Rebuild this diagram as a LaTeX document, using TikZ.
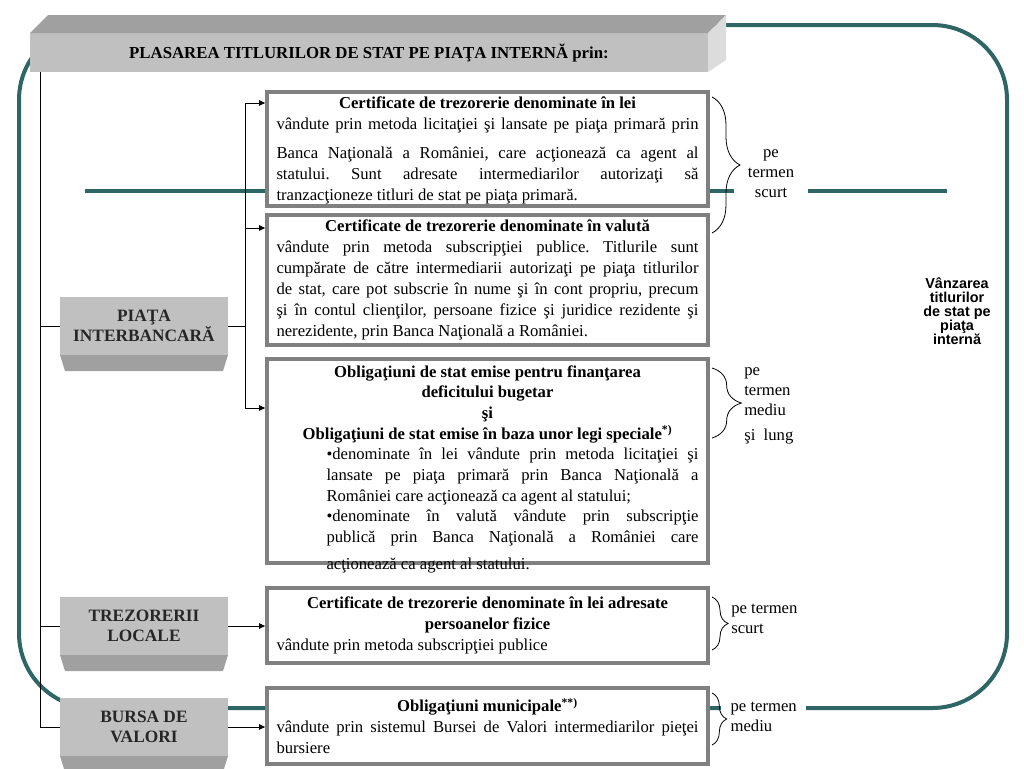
\documentclass[tikz,border=0pt]{standalone}
\usepackage{fontspec}
\setmainfont{Liberation Serif}
\setsansfont{Liberation Sans}
\usetikzlibrary{arrows.meta,calc,decorations.pathreplacing}
\definecolor{cTeal}{HTML}{2E6666}
\definecolor{cFrame}{HTML}{808080}
\definecolor{cFace}{HTML}{C0C0C0}
\definecolor{cFaceDark}{HTML}{A0A0A0}
\definecolor{cFaceLight}{HTML}{DCDCDC}
\hyphenpenalty=10000
\exhyphenpenalty=10000
\tolerance=3000
\emergencystretch=8pt
\hbadness=10000
\frenchspacing
\tikzset{
  >={Triangle[length=4.5pt,width=4pt]},
  txtbox/.style={draw=cFrame, line width=3pt, fill=white, align=justify,
                 text width=316.5pt, inner xsep=7pt, inner ysep=0pt,
                 font=\fontsize{12.5}{15.75}\selectfont},
  titlebox/.style={fill=cFace, outer sep=0pt, minimum width=508.5pt, minimum height=29.25pt,
                   font=\fontsize{12.6}{14}\selectfont\bfseries},
  sidebox/.style={fill=cFace, outer sep=0pt, minimum width=126pt, minimum height=43.5pt,
                  align=center, font=\fontsize{13}{15}\selectfont\bfseries, text=black!85},
  tealline/.style={draw=cTeal, line width=3pt},
  lnk/.style={line width=0.75pt},
  arr/.style={->, line width=0.75pt},
  brc/.style={decorate, decoration={brace, amplitude=#1}, line width=0.6pt},
  lbl/.style={font=\fontsize{12.5}{15}\selectfont, inner sep=0pt},
}

\begin{document}
\begin{tikzpicture}[x=0.75pt, y=-0.75pt]
  \useasboundingbox (0,0) rectangle (1024,768);
  \clip (0,0) rectangle (1024,768);
  % teal frame and bar
  \draw[tealline, rounded corners=56pt] (19,25) rectangle (1007,708);
  \draw[tealline] (85,191) -- (947,191);

  % title block
  \node[titlebox] (title) at (369,52.5) {PLASAREA TITLURILOR DE STAT PE PIAŢA INTERNĂ prin:};
  \fill[cFaceDark] (title.north west) -- ++(18,-18) -- ([shift={(18,-18)}]title.north east)
    -- (title.north east) -- cycle;
  \fill[cFaceLight] (title.north east) -- ++(18,-18) -- ([shift={(18,-12)}]title.south east)
    -- (title.south east) -- cycle;

  % markets
  \node[sidebox] (piata) at (144,326) {PIAŢA\\INTERBANCARĂ};
  \node[sidebox] (trez) at (144,626) {TREZORERII\\LOCALE};
  \node[sidebox] (bursa) at (144,727) {BURSA DE\\VALORI};
  \foreach \n in {piata,trez,bursa}
    \fill[cFaceDark] (\n.south west) -- ++(5,16) -- ([shift={(-5,16)}]\n.south east)
      -- (\n.south east) -- cycle;

  % securities
  \node[txtbox, minimum height=85.5pt, text height=12pt, text depth=73.5pt] (cert1) at (487.5,149) {%
    {\centering\bfseries Certificate de trezorerie denominate în lei\par}
    {\parfillskip=0pt vândute prin metoda licitaţiei şi lansate pe piaţa primară prin\par}
    \vspace{6pt}Banca Naţională a României, care acţionează ca agent al\linebreak statului. Sunt
    adresate intermediarilor autorizaţi să\linebreak tranzacţioneze titluri de stat pe piaţa primară.};
  \node[txtbox, minimum height=97.5pt] (cert2) at (487.5,280) {%
    {\centering\bfseries Certificate de trezorerie denominate în valută\par}
    vândute prin metoda subscripţiei publice. Titlurile sunt cumpărate de către
    intermediarii autorizaţi pe piaţa titlurilor de stat, care pot subscrie în nume şi în
    cont propriu, precum şi în contul clienţilor, persoane fizice şi juridice rezidente şi
    nerezidente, prin Banca Naţională a României.};
  \node[txtbox, minimum height=153pt, text height=13.5pt, text depth=139.5pt,
        font=\fontsize{12.5}{15.5}\selectfont] (oblig) at (487.5,461) {%
    {\centering\bfseries Obligaţiuni de stat emise pentru finanţarea\\ deficitului bugetar\\ şi\\
     Obligaţiuni de stat emise în baza unor legi speciale\textsuperscript{*)}\par}
    {\leftskip=37.5pt
     \textbullet denominate în lei vândute prin metoda licitaţiei şi lansate pe piaţa
     primară prin Banca Naţională a României care acţionează ca agent al statului;\par
     \textbullet denominate în valută vândute prin subscripţie\linebreak publică prin Banca
     Naţională a României care\vadjust{\vskip 5pt}\linebreak acţionează ca agent al statului.\par}};
  \node[txtbox, minimum height=56.25pt] (certpf) at (487.5,625.5) {%
    {\centering\bfseries Certificate de trezorerie denominate în lei adresate\\
     persoanelor fizice\par}
    vândute prin metoda subscripţiei publice};
  \node[txtbox, minimum height=57pt] (munic) at (487.5,726) {%
    {\centering\bfseries Obligaţiuni municipale\textsuperscript{**)}\par}
    vândute prin sistemul Bursei de Valori intermediarilor pieţei bursiere};

  % links
  \coordinate (trunk) at (40,72);
  \draw[lnk] (trunk) |- (bursa.west);
  \draw[lnk] (trunk |- piata.west) -- (piata.west);
  \draw[lnk] (trunk |- trez.west) -- (trez.west);
  \draw[lnk] (piata.east) -- ++(17,0) coordinate (split);
  \draw[arr] (split) |- ([yshift=-9.75pt]cert1.north west);
  \draw[arr] (split) |- ([yshift=-11.25pt]cert2.north west);
  \draw[arr] (split) |- ([yshift=-38.25pt]oblig.north west);
  \draw[arr] (trez.east) -- (trez.east -| certpf.west);
  \draw[arr] (bursa.east) -- (bursa.east -| munic.west);

  % terms
  \node[lbl, fill=white, minimum width=55pt, align=center] (scurt1) at (771,174) {pe\\termen\\scurt};
  \node[lbl, anchor=west, align=left] (lung) at (744,406) {pe\\termen\\mediu\\[4pt]şi\ \ lung};
  \node[lbl, anchor=west, align=left] (scurt2) at (731,619) {pe termen\\scurt};
  \node[lbl, anchor=west, align=left, fill=white, inner xsep=7pt, inner ysep=2pt] (mediu) at (721,717) {pe termen\\mediu};
  \draw[brc=21pt] (712,97) -- (712,233);
  \draw[brc=22pt] (712,368) -- (712,438);
  \draw[brc=12pt] (712,597) -- (712,650);
  \draw[brc=11pt] (712,693) -- (712,745);

  \node[align=center, font=\fontsize{10.8}{10.5}\selectfont\sffamily\bfseries] (vanz) at (957,311)
    {Vânzarea\\titlurilor\\de stat pe\\piaţa\\internă};
\end{tikzpicture}
\end{document}
